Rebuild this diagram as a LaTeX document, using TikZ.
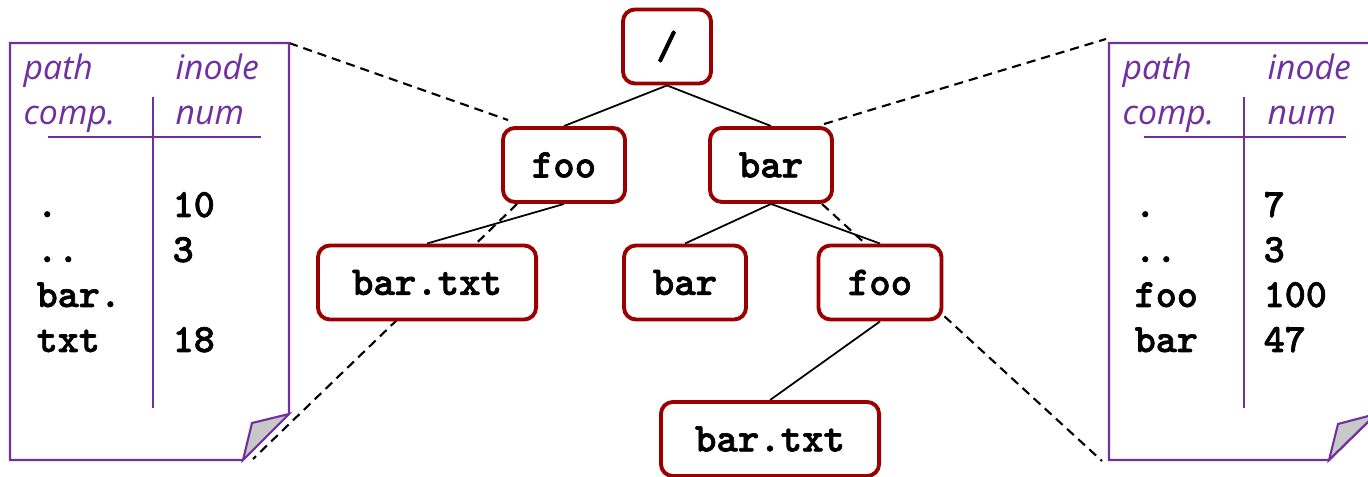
\documentclass[tikz,border=0pt]{standalone}
\usepackage{fontspec}
\newfontfamily\headfont{Open Sans}
\newfontfamily\codefont{lmmonolt10-bold.otf}[FakeBold=1.6]
\usetikzlibrary{backgrounds}

\definecolor{dirred}{RGB}{155,0,0}
\definecolor{docpurple}{RGB}{112,48,160}
\definecolor{flapgray}{RGB}{200,200,200}

\begin{document}
\begin{tikzpicture}[x=0.01cm,y=-0.01cm,
	dirbox/.style={draw=dirred,line width=1.1pt,rounded corners=0.12cm,fill=white,
		minimum height=0.74cm,inner sep=0pt,font=\codefont\fontsize{11.6}{13}\selectfont},
	treeline/.style={line width=0.5pt},
	zoomline/.style={line width=0.6pt,dash pattern=on 2.6pt off 1.7pt},
	pageline/.style={draw=docpurple,line width=0.6pt},
	head/.style={anchor=base west,inner sep=0pt,text=docpurple,
		font=\headfont\itshape\fontsize{9.6}{11}\selectfont},
	entry/.style={anchor=base west,inner sep=0pt,font=\codefont\fontsize{11.4}{13}\selectfont}]
%
	\useasboundingbox (0,0) rectangle (1368,477);
	\clip (0,0) rectangle (1368,477);
%
	% directory tree
	\node[dirbox,minimum width=0.88cm] (root) at (667,46.5) {/};
	\node[dirbox,minimum width=1.22cm] (foo) at (564,165) {foo};
	\node[dirbox,minimum width=1.22cm] (bar) at (771,165) {bar};
	\node[dirbox,minimum width=2.18cm] (footxt) at (427,282.5) {bar.txt};
	\node[dirbox,minimum width=1.22cm] (barbar) at (685,282.5) {bar};
	\node[dirbox,minimum width=1.23cm] (barfoo) at (880,282.5) {foo};
	\node[dirbox,minimum width=2.18cm] (bartxt) at (770,439) {bar.txt};
%
	% directory file of /foo
	\draw[pageline] (10,43) -- (289,43) -- (289,414) -- (243,460) -- (10,460) -- cycle;
	\filldraw[pageline,fill=flapgray] (289,414) -- (252,423) -- (243,460) -- cycle;
	\draw[pageline] (153,97) -- (153,408);
	\draw[pageline] (48,137) -- (261,137);
	\coordinate (lpage-tr) at (289,43);
	\coordinate (lpage-br) at (253,459);
	\node[head] (lhead1) at (23,80) {path};
	\node[head] (lhead2) at (23,125) {comp.};
	\node[head] (lhead3) at (175,80) {inode};
	\node[head] (lhead4) at (175,125) {num};
	\foreach \comp/\num [count=\i] in {./10, ../3, bar./, txt/18} {
		\node[entry] (lcomp\i) at (36,172+45*\i) {\comp};
		\node[entry] (lnum\i) at (172,172+45*\i) {\num};
	}
%
	% directory file of /bar
	\draw[pageline] (1109,43) -- (1376,43) -- (1376,414) -- (1329,460) -- (1109,460) -- cycle;
	\filldraw[pageline,fill=flapgray] (1376,414) -- (1338,424) -- (1329,460) -- cycle;
	\draw[pageline] (1244,97) -- (1244,408);
	\draw[pageline] (1144,137) -- (1346,137);
	\coordinate (rpage-tl) at (1106,39);
	\coordinate (rpage-bl) at (1102,461);
	\node[head] (rhead1) at (1122,80) {path};
	\node[head] (rhead2) at (1122,125) {comp.};
	\node[head] (rhead3) at (1267,80) {inode};
	\node[head] (rhead4) at (1267,125) {num};
	\foreach \comp/\num [count=\i] in {./7, ../3, foo/100, bar/47} {
		\node[entry] (rcomp\i) at (1134,172+45*\i) {\comp};
		\node[entry] (rnum\i) at (1263,172+45*\i) {\num};
	}
%
	\begin{pgfonlayer}{background}
	\draw[treeline] (root.south) -- (foo.north);
	\draw[treeline] (root.south) -- (bar.north);
	\draw[treeline] (foo.south) -- (footxt.north);
	\draw[treeline] (bar.south) -- (barbar.north);
	\draw[treeline] (bar.south) -- (barfoo.north);
	\draw[treeline] (barfoo.south) -- (bartxt.north);
	% dashed lines out to the two pages
	\draw[zoomline] (lpage-tr) -- ([shift={(7,-6)}]foo.north west);
	\draw[zoomline] ([shift={(16,0)}]foo.south west) -- (lpage-br);
	\draw[zoomline] ([shift={(-10,-2)}]bar.north east) -- (rpage-tl);
	\draw[zoomline] ([shift={(-12,0)}]bar.south east) -- (rpage-bl);
	\end{pgfonlayer}
%
\end{tikzpicture}
\end{document}
